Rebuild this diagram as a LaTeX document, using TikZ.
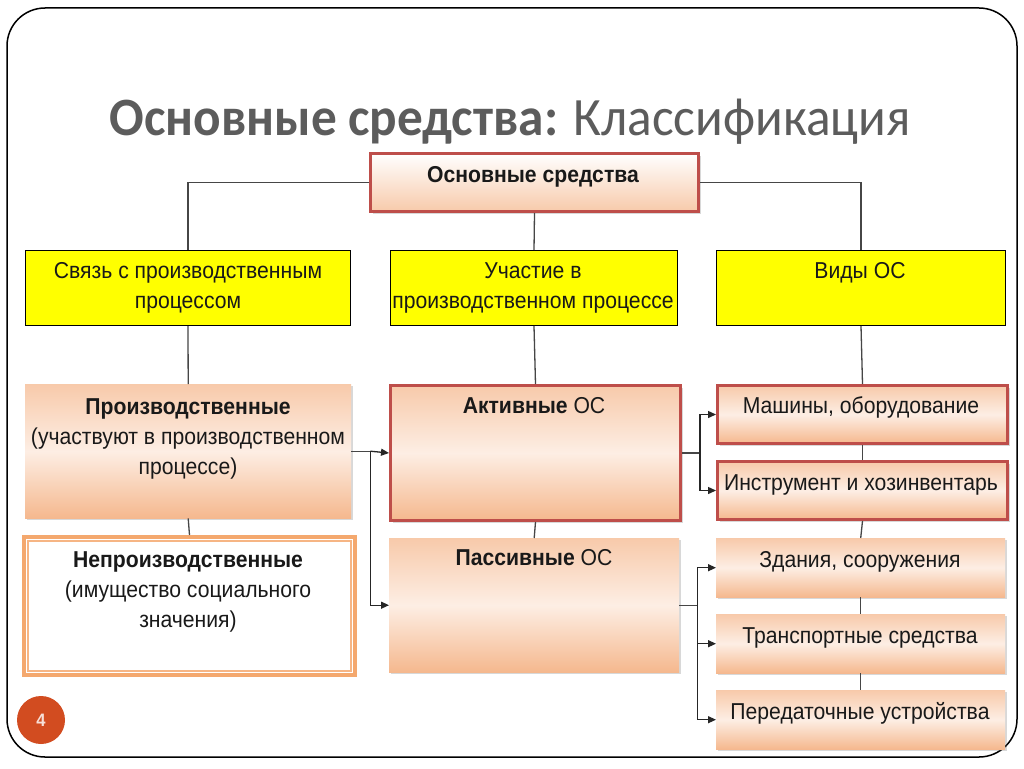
\documentclass[tikz,border=0pt]{standalone}
\usepackage{fontspec}
\setmainfont[FakeStretch=0.92]{Liberation Sans}
\newfontfamily\titlefont[FakeStretch=0.95]{Carlito}
\usetikzlibrary{shadows,arrows.meta,calc}
\definecolor{redb}{RGB}{190,78,74}
\definecolor{peach}{RGB}{245,184,142}
\definecolor{peachl}{RGB}{253,238,228}
\definecolor{ylw}{RGB}{255,255,0}
\definecolor{orng}{RGB}{244,168,110}
\definecolor{lineg}{RGB}{70,70,70}
\definecolor{titleg}{RGB}{92,92,92}
\definecolor{pagec}{RGB}{210,76,32}
\definecolor{txtc}{RGB}{25,25,25}
\tikzset{
  shbox/.style={anchor=north west, inner sep=0pt, rectangle,
    drop shadow={shadow xshift=2pt, shadow yshift=-2pt, opacity=.25, fill=black!60}},
  peachbox/.style={shbox, top color=peach!75, bottom color=peach, middle color=peachl},
  redbox/.style={peachbox, draw=redb, line width=3pt},
  rootbox/.style={shbox, draw=redb, line width=3pt, top color=white, bottom color=peach!75},
  ybox/.style={anchor=north west, inner sep=0pt, rectangle, fill=ylw, draw=black, line width=1pt},
  nbox/.style={shbox, fill=white, draw=orng, line width=4pt},
  lbl/.style={anchor=base, inner sep=0pt, text=txtc, font=\fontsize{23}{30}\selectfont},
  conn/.style={draw=lineg, line width=1.3pt},
  arr/.style={draw=black!85, line width=1.3pt, -{Triangle[length=8pt,width=7pt]}}
}
\begin{document}
\begin{tikzpicture}[x=1pt,y=-1pt]
\useasboundingbox (0,0) rectangle (1024,768);
\fill[white] (0,0) rectangle (1024,768);
\draw[line width=1.5pt, rounded corners=38pt] (7,8) rectangle (1017,757);

\node[anchor=base, inner sep=0pt, text=titleg] (title) at (510,135)
  {\titlefont\fontsize{54}{60}\selectfont\bfseries Основные средства: \mdseries Классификация};

% boxes
\node[rootbox, minimum width=328pt, minimum height=58pt] (root) at (369,152) {};
\node[ybox, minimum width=325pt, minimum height=75pt] (y1) at (25,250) {};
\node[ybox, minimum width=287pt, minimum height=75pt] (y2) at (390,250) {};
\node[ybox, minimum width=289pt, minimum height=75pt] (y3) at (716,250) {};

\node[peachbox, minimum width=326pt, minimum height=134pt] (prod) at (25,384) {};
\node[nbox, minimum width=331pt, minimum height=138pt] (nonprod) at (22,535) {};
\draw[orng!85, line width=1.5pt] ($(nonprod.north west)+(6,6)$) rectangle ($(nonprod.south east)+(-6,-6)$);

\node[redbox, minimum width=290pt, minimum height=135pt] (act) at (389,384) {};
\node[peachbox, minimum width=290pt, minimum height=134pt] (pas) at (389,538) {};

\node[redbox, minimum width=290pt, minimum height=58pt] (m1) at (716,384) {};
\node[redbox, minimum width=290pt, minimum height=58pt] (m2) at (716,460) {};
\node[peachbox, minimum width=289pt, minimum height=59pt] (m3) at (716,538) {};
\node[peachbox, minimum width=289pt, minimum height=59pt] (m4) at (716,614) {};
\node[peachbox, minimum width=289pt, minimum height=59pt] (m5) at (716,690) {};

% texts
\node[lbl] (troot) at (533,182) {\bfseries Основные средства};
\node[lbl] (t1a) at (188,278) {Связь с производственным};
\node[lbl] (t1b) at (188,308) {процессом};
\node[lbl] (t2a) at (533,278) {Участие в};
\node[lbl] (t2b) at (533,308) {производственном процессе};
\node[lbl] (t3a) at (860,278) {Виды ОС};
\node[lbl] (tpa) at (188,414) {\bfseries Производственные};
\node[lbl] (tpb) at (188,444) {(участвуют в производственном};
\node[lbl] (tpc) at (188,474) {процессе)};
\node[lbl] (tna) at (188,567) {\bfseries Непроизводственные};
\node[lbl] (tnb) at (188,597) {(имущество социального};
\node[lbl] (tnc) at (188,627) {значения)};
\node[lbl] (tact) at (534,413) {\bfseries Активные\mdseries{} ОС};
\node[lbl] (tpas) at (534,565) {\bfseries Пассивные\mdseries{} ОС};
\node[lbl] (tm1) at (861,413) {Машины, оборудование};
\node[lbl] (tm2) at (861,490) {Инструмент и хозинвентарь};
\node[lbl] (tm3) at (860,567) {Здания, сооружения};
\node[lbl] (tm4) at (860,643) {Транспортные средства};
\node[lbl] (tm5) at (860,719) {Передаточные устройства};

% connectors
\draw[conn] (root.west) -| (y1.north);
\draw[conn] (root.east) -| (y3.north);
\draw[conn] (root.south) -- (y2.north);
\draw[conn] (y1.south) -- (prod.north);
\draw[conn] (prod.south) -- (nonprod.north);
\draw[conn] (y2.south) -- (act.north);
\draw[conn] (act.south) -- (pas.north);
\draw[conn] (y3.south) -- (m1.north);
\draw[conn] (m1.south) -- (m2.north);
\draw[conn] (m2.south) -- (m3.north);
\draw[conn] (m3.south) -- (m4.north);
\draw[conn] (m4.south) -- (m5.north);

\coordinate (j1) at ($(prod.east)+(19,0)$);
\coordinate (j2) at ($(act.east)+(18,0)$);
\coordinate (j3) at ($(pas.east)+(18,0)$);
\draw[conn] (prod.east) -- (j1);
\draw[arr] (j1) -- (act.west);
\draw[arr] (j1) |- (pas.west);
\draw[conn] (act.east) -- (j2);
\draw[arr] (j2) |- (m1.west);
\draw[arr] (j2) |- (m2.west);
\draw[conn] (pas.east) -- (j3);
\draw[arr] (j3) |- (m3.west);
\draw[arr] (j3) |- (m4.west);
\draw[arr] (j3) |- (m5.west);

\node[circle, fill=pagec, minimum size=48pt, inner sep=0pt, text=white!82!pagec,
  font=\bfseries\fontsize{18}{18}\selectfont] (pg) at (41,720) {4};
\end{tikzpicture}
\end{document}
